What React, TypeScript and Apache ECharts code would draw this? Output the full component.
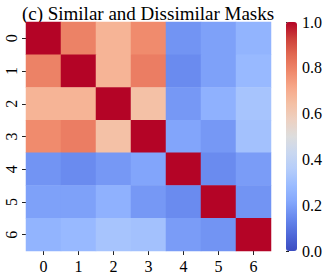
import React, { useEffect, useRef } from "react";
import * as echarts from "echarts";

const categories = ["0", "1", "2", "3", "4", "5", "6"];
const matrix: number[][] = [
  [1.0, 0.8, 0.68, 0.78, 0.17, 0.2, 0.26],
  [0.8, 1.0, 0.68, 0.81, 0.15, 0.2, 0.28],
  [0.68, 0.68, 1.0, 0.64, 0.18, 0.25, 0.32],
  [0.78, 0.81, 0.64, 1.0, 0.21, 0.18, 0.31],
  [0.17, 0.15, 0.18, 0.21, 1.0, 0.15, 0.19],
  [0.2, 0.2, 0.25, 0.18, 0.15, 1.0, 0.17],
  [0.26, 0.28, 0.32, 0.31, 0.19, 0.17, 1.0],
];
const colorTicks = [0, 0.2, 0.4, 0.6, 0.8, 1.0];
const coolwarm = [
  "#3b4cc0", "#4f69d9", "#6788ee", "#84a7fc", "#9abbff", "#b5cdfa", "#c9d7f0",
  "#dddddd", "#edd1c2", "#f4c0a5", "#f7a889", "#ef886b", "#e26952", "#cc403a", "#b40426",
];
const titleText = "(c) Similar and Dissimilar Masks";

const FONT = "Liberation Serif";

export default function App() {
  const ref = useRef<HTMLDivElement>(null);
  useEffect(() => {
    document.body.style.margin = "0";
    const chart = echarts.init(ref.current!, null, { renderer: "svg" });
    const data: [number, number, number][] = [];
    matrix.forEach((row, r) => row.forEach((v, c) => data.push([c, r, v])));
    chart.setOption({
      animation: false,
      graphic: [
        {
          type: "text",
          x: 148,
          y: 13,
          style: {
            text: titleText,
            font: `19px "${FONT}"`,
            fill: "#000",
            align: "center",
            verticalAlign: "middle",
          },
        },
      ],
      grid: [
        { left: 26, top: 22, width: 245, height: 229 },
        { left: 286, top: 22, width: 11, height: 229 },
      ],
      xAxis: [
        {
          type: "category",
          data: categories,
          gridIndex: 0,
          axisLine: { show: false },
          axisTick: { show: true, length: 4, alignWithLabel: true, lineStyle: { color: "#222" } },
          axisLabel: { fontFamily: FONT, fontSize: 16, color: "#000", margin: 7 },
          splitArea: { show: false },
        },
        { type: "value", gridIndex: 1, show: false, min: 0, max: 1 },
      ],
      yAxis: [
        {
          type: "category",
          data: categories,
          gridIndex: 0,
          inverse: true,
          axisLine: { show: false },
          axisTick: { show: true, length: 4, alignWithLabel: true, lineStyle: { color: "#222" } },
          axisLabel: { fontFamily: FONT, fontSize: 16, color: "#000", rotate: 90, margin: 7 },
        },
        {
          type: "value",
          gridIndex: 1,
          position: "right",
          min: 0,
          max: 1,
          interval: 0.2,
          axisLine: { show: false },
          splitLine: { show: false },
          axisTick: { show: true, length: 3, lineStyle: { color: "#222" } },
          axisLabel: {
            fontFamily: FONT,
            fontSize: 16,
            color: "#000",
            margin: 5,
            formatter: (v: number) => (colorTicks.some((t) => Math.abs(t - v) < 1e-9) ? v.toFixed(1) : ""),
          },
        },
      ],
      visualMap: {
        type: "continuous",
        min: 0,
        max: 1,
        seriesIndex: 0,
        dimension: 2,
        calculable: false,
        hoverLink: false,
        orient: "vertical",
        left: 286,
        top: 22,
        padding: 0,
        itemWidth: 11,
        itemHeight: 229,
        inRange: { color: coolwarm },
        textStyle: { color: "transparent" },
      },
      series: [
        {
          type: "heatmap",
          xAxisIndex: 0,
          yAxisIndex: 0,
          data,
          itemStyle: { borderWidth: 0 },
          emphasis: { disabled: true },
        },
      ],
    });
    return () => chart.dispose();
  }, []);
  return <div ref={ref} style={{ width: 329, height: 277 }} />;
}
